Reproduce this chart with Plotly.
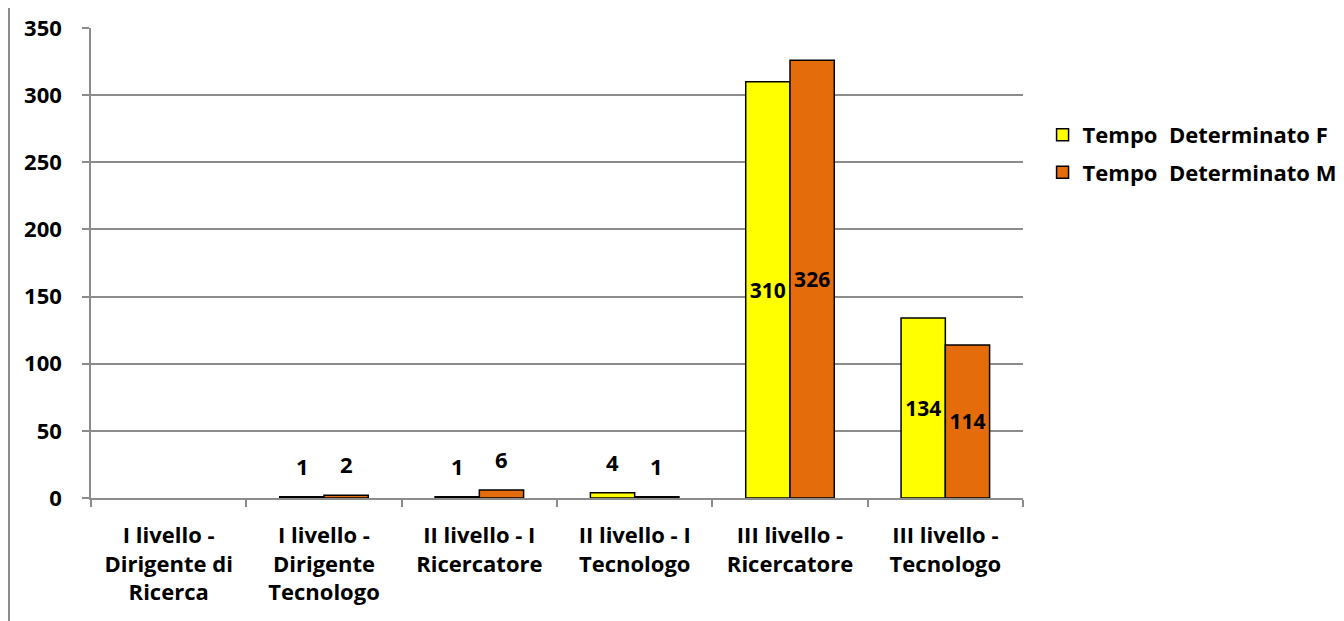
import plotly.graph_objects as go

categories = [
    "I livello -<br>Dirigente di<br>Ricerca",
    "I livello -<br>Dirigente<br>Tecnologo",
    "II livello - I<br>Ricercatore",
    "II livello - I<br>Tecnologo",
    "III livello -<br>Ricercatore",
    "III livello -<br>Tecnologo",
]
series_f = [None, 1, 1, 4, 310, 134]
series_m = [None, 2, 6, 1, 326, 114]
name_f = "Tempo  Determinato F"
name_m = "Tempo  Determinato M"
y_ticks = [0, 50, 100, 150, 200, 250, 300, 350]

FONT = "Open Sans"
threshold = 50
BAR_HALF = 22  # half of a bar width in px, used to centre the small labels


def inside_text(vals):
    return [str(v) if (v is not None and v >= threshold) else "" for v in vals]


fig = go.Figure()
for name, vals, color, grp in [(name_f, series_f, "#FFFF00", "f"), (name_m, series_m, "#E46C0A", "m")]:
    fig.add_trace(go.Bar(
        name=name, x=categories, y=vals, text=inside_text(vals),
        textposition="inside", insidetextanchor="middle", textangle=0,
        constraintext="none",
        textfont=dict(family=FONT, size=21, color="black", weight="bold"),
        marker=dict(color=color, line=dict(color="black", width=1.5)),
        legendgroup=grp,
    ))

annotations = []
for vals, shift in [(series_f, -BAR_HALF), (series_m, BAR_HALF)]:
    for c, v in zip(categories, vals):
        if v is not None and v < threshold:
            annotations.append(dict(
                x=c, y=v, xref="x", yref="y", text=str(v), showarrow=False,
                xshift=shift, yshift=14, yanchor="bottom",
                font=dict(family=FONT, size=22, color="black", weight="bold"),
            ))

fig.update_layout(
    width=1336, height=613,
    margin=dict(l=83, r=321, t=20, b=123, autoexpand=False),
    paper_bgcolor="white", plot_bgcolor="white",
    barmode="group", bargap=0.43, bargroupgap=0,
    uniformtext=dict(mode=False),
    font=dict(family=FONT, size=22, color="black", weight="bold"),
    legend=dict(x=1.021, y=0.732, xanchor="left", yanchor="middle",
                font=dict(family=FONT, size=22, color="black", weight="bold"),
                tracegroupgap=6, traceorder="grouped"),
    showlegend=True,
    annotations=annotations,
    shapes=[dict(type="line", xref="paper", yref="paper",
                 x0=-0.088, x1=-0.088, y0=-0.27, y1=1.07,
                 line=dict(color="#8c8c8c", width=2))],
)
fig.update_xaxes(
    automargin=False,
    showline=True, linecolor="#8c8c8c", linewidth=1.5,
    ticks="outside", tickson="boundaries", ticklen=7, tickcolor="#8c8c8c", tickwidth=1.5,
    tickfont=dict(family=FONT, size=22, color="black", weight="bold"),
    ticklabelstandoff=17,
    showgrid=False,
)
fig.update_yaxes(
    automargin=False,
    range=[0, 350], tickvals=y_ticks,
    showline=True, linecolor="#8c8c8c", linewidth=1.5,
    ticks="outside", ticklen=7, tickcolor="#8c8c8c", tickwidth=1.5,
    showgrid=True, gridcolor="#8c8c8c", gridwidth=1.5,
    zeroline=False,
    ticklabelstandoff=16,
    tickfont=dict(family=FONT, size=22, color="black", weight="bold"),
)

fig.write_html("out.html")
